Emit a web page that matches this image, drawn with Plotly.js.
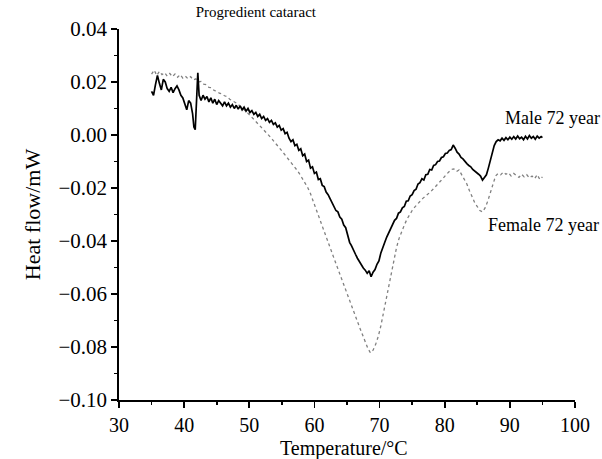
<!DOCTYPE html>
<html>
<head>
<meta charset="utf-8">
<script src="https://cdn.plot.ly/plotly-3.0.1.min.js"></script>
<style>html,body{margin:0;padding:0;background:#fff;}#chart{width:602px;height:459px;}</style>
</head>
<body>
<div id="chart"></div>
<script>
// Temperature (°C) and heat flow (mW)
const maleT = [35.0,35.3,35.6,35.9,36.2,36.5,36.8,37.1,37.4,37.7,38.0,38.3,38.6,38.9,39.2,39.5,39.8,40.1,40.4,40.7,41.0,41.3,41.5,41.7,41.9,42.1,42.3,42.6,42.9,43.2,43.5,43.8,44.1,44.4,44.7,45.0,45.3,45.6,45.9,46.2,46.5,46.8,47.1,47.4,47.7,48.0,48.3,48.6,48.9,49.2,49.5,49.8,50.1,50.4,50.7,51.0,51.3,51.6,51.9,52.2,52.5,52.8,53.1,53.4,53.7,54.0,54.3,54.6,54.9,55.2,55.5,55.8,56.1,56.4,56.7,57.0,57.3,57.6,57.9,58.2,58.5,58.8,59.1,59.4,59.7,60.0,60.3,60.6,60.9,61.2,61.5,61.8,62.1,62.4,62.7,63.0,63.3,63.6,63.9,64.2,64.5,64.8,65.1,65.4,65.7,66.0,66.3,66.6,66.9,67.2,67.5,67.8,68.1,68.4,68.7,69.0,69.3,69.6,69.9,70.2,70.5,70.8,71.1,71.4,71.7,72.0,72.3,72.6,72.9,73.2,73.5,73.8,74.1,74.4,74.7,75.0,75.3,75.6,75.9,76.2,76.5,76.8,77.1,77.4,77.7,78.0,78.3,78.6,78.9,79.2,79.5,79.8,80.1,80.4,80.7,81.0,81.3,81.6,81.9,82.2,82.5,82.8,83.1,83.4,83.7,84.0,84.3,84.6,84.9,85.2,85.5,85.8,86.1,86.4,86.7,87.0,87.3,87.6,87.9,88.2,88.5,88.8,89.1,89.4,89.7,90.0,90.3,90.6,90.9,91.2,91.5,91.8,92.1,92.4,92.7,93.0,93.3,93.6,93.9,94.2,94.5,94.8,95.0];
const maleHF = [0.0165,0.0150,0.0190,0.0225,0.0195,0.0170,0.0210,0.0200,0.0175,0.0165,0.0180,0.0160,0.0175,0.0185,0.0170,0.0150,0.0140,0.0120,0.0095,0.0130,0.0120,0.0080,0.0030,0.0020,0.0150,0.0235,0.0150,0.0130,0.0150,0.0135,0.0145,0.0125,0.0140,0.0120,0.0135,0.0115,0.0130,0.0120,0.0110,0.0125,0.0110,0.0120,0.0105,0.0115,0.0100,0.0112,0.0098,0.0110,0.0095,0.0105,0.0090,0.0100,0.0085,0.0092,0.0078,0.0085,0.0070,0.0078,0.0062,0.0070,0.0055,0.0062,0.0048,0.0055,0.0040,0.0046,0.0030,0.0036,0.0018,0.0024,0.0005,0.0010,-0.0012,-0.0025,-0.0018,-0.0040,-0.0035,-0.0058,-0.0052,-0.0078,-0.0072,-0.0100,-0.0095,-0.0125,-0.0120,-0.0145,-0.0140,-0.0168,-0.0165,-0.0190,-0.0195,-0.0215,-0.0225,-0.0240,-0.0255,-0.0265,-0.0285,-0.0290,-0.0310,-0.0318,-0.0340,-0.0350,-0.0380,-0.0405,-0.0418,-0.0438,-0.0450,-0.0465,-0.0478,-0.0488,-0.0502,-0.0510,-0.0522,-0.0512,-0.0535,-0.0518,-0.0508,-0.0488,-0.0475,-0.0445,-0.0420,-0.0405,-0.0385,-0.0370,-0.0350,-0.0340,-0.0322,-0.0315,-0.0295,-0.0290,-0.0275,-0.0270,-0.0250,-0.0248,-0.0230,-0.0225,-0.0210,-0.0205,-0.0185,-0.0180,-0.0165,-0.0170,-0.0150,-0.0148,-0.0130,-0.0132,-0.0115,-0.0112,-0.0100,-0.0098,-0.0085,-0.0082,-0.0070,-0.0068,-0.0058,-0.0055,-0.0038,-0.0050,-0.0065,-0.0072,-0.0085,-0.0090,-0.0100,-0.0108,-0.0115,-0.0120,-0.0130,-0.0135,-0.0140,-0.0148,-0.0155,-0.0170,-0.0160,-0.0150,-0.0125,-0.0095,-0.0070,-0.0040,-0.0025,-0.0018,-0.0022,-0.0012,-0.0020,-0.0010,-0.0018,-0.0008,-0.0016,-0.0006,-0.0015,-0.0004,-0.0014,-0.0008,-0.0018,-0.0005,-0.0015,-0.0002,-0.0012,-0.0006,-0.0016,-0.0004,-0.0012,-0.0006,-0.0010];

const femaleT = [35.0,35.4,35.8,36.2,36.6,37.0,37.4,37.8,38.2,38.6,39.0,39.4,39.8,40.2,40.6,41.0,41.4,41.8,42.2,42.6,43.0,43.4,43.8,44.2,44.6,45.0,45.4,45.8,46.2,46.6,47.0,47.4,47.8,48.2,48.6,49.0,49.4,49.8,50.2,50.6,51.0,51.4,51.8,52.2,52.6,53.0,53.4,53.8,54.2,54.6,55.0,55.4,55.8,56.2,56.6,57.0,57.4,57.8,58.2,58.6,59.0,59.4,59.8,60.2,60.6,61.0,61.4,61.8,62.2,62.6,63.0,63.4,63.8,64.2,64.6,65.0,65.4,65.8,66.2,66.6,67.0,67.4,67.8,68.2,68.6,69.0,69.4,69.8,70.2,70.6,71.0,71.4,71.8,72.2,72.6,73.0,73.4,73.8,74.2,74.6,75.0,75.4,75.8,76.2,76.6,77.0,77.4,77.8,78.2,78.6,79.0,79.4,79.8,80.2,80.6,81.0,81.4,81.8,82.2,82.6,83.0,83.4,83.8,84.2,84.6,85.0,85.4,85.8,86.2,86.6,87.0,87.4,87.8,88.2,88.6,89.0,89.4,89.8,90.2,90.6,91.0,91.4,91.8,92.2,92.6,93.0,93.4,93.8,94.2,94.6,95.0];
const femaleHF = [0.0230,0.0245,0.0225,0.0240,0.0228,0.0235,0.0222,0.0232,0.0220,0.0230,0.0218,0.0228,0.0215,0.0222,0.0212,0.0220,0.0208,0.0212,0.0200,0.0202,0.0192,0.0190,0.0180,0.0178,0.0168,0.0165,0.0158,0.0155,0.0148,0.0145,0.0135,0.0130,0.0122,0.0118,0.0108,0.0100,0.0090,0.0082,0.0072,0.0062,0.0052,0.0042,0.0032,0.0020,0.0010,-0.0002,-0.0012,-0.0025,-0.0035,-0.0048,-0.0060,-0.0072,-0.0085,-0.0098,-0.0110,-0.0122,-0.0135,-0.0150,-0.0165,-0.0180,-0.0200,-0.0222,-0.0250,-0.0278,-0.0305,-0.0330,-0.0355,-0.0382,-0.0410,-0.0438,-0.0465,-0.0492,-0.0520,-0.0548,-0.0575,-0.0600,-0.0625,-0.0652,-0.0678,-0.0705,-0.0730,-0.0755,-0.0780,-0.0805,-0.0822,-0.0812,-0.0790,-0.0760,-0.0720,-0.0670,-0.0620,-0.0570,-0.0520,-0.0470,-0.0425,-0.0390,-0.0362,-0.0340,-0.0318,-0.0300,-0.0285,-0.0272,-0.0260,-0.0250,-0.0240,-0.0232,-0.0225,-0.0215,-0.0205,-0.0195,-0.0185,-0.0175,-0.0162,-0.0150,-0.0138,-0.0130,-0.0128,-0.0138,-0.0132,-0.0150,-0.0165,-0.0185,-0.0210,-0.0235,-0.0255,-0.0270,-0.0285,-0.0290,-0.0275,-0.0250,-0.0215,-0.0180,-0.0155,-0.0145,-0.0150,-0.0140,-0.0148,-0.0142,-0.0155,-0.0145,-0.0152,-0.0160,-0.0148,-0.0158,-0.0150,-0.0162,-0.0155,-0.0165,-0.0150,-0.0168,-0.0158];

const seriesNames = ["Male 72 year", "Female 72 year"];
const chartTitle = "Progredient cataract";
const xTitle = "Temperature/°C";
const yTitle = "Heat flow/mW";

const FONT = "Liberation Serif, Times New Roman, serif";

const traces = [
  {x: femaleT, y: femaleHF, mode: "lines", name: seriesNames[1],
   line: {color: "#808080", width: 1.3, dash: "dot"}},
  {x: maleT, y: maleHF, mode: "lines", name: seriesNames[0],
   line: {color: "#000000", width: 1.7}}
];

const axisCommon = {
  showgrid: false, zeroline: false, showline: true, linecolor: "#000", linewidth: 1.8,
  ticks: "outside", ticklen: 6, tickwidth: 1.8, tickcolor: "#000",
  tickfont: {family: FONT, size: 21, color: "#000"},
  automargin: false
};

const layout = {
  width: 602, height: 459,
  margin: {l: 119, r: 27, t: 29, b: 59},
  paper_bgcolor: "#fff", plot_bgcolor: "#fff",
  showlegend: false,
  font: {family: FONT, color: "#000"},
  title: {text: chartTitle, font: {family: FONT, size: 15, color: "#000"},
          x: 0.425, xref: "container", xanchor: "center", y: 0.975, yref: "container", yanchor: "middle"},
  xaxis: Object.assign({}, axisCommon, {
    range: [30, 100], tick0: 30, dtick: 10,
    tickfont: {family: FONT, size: 20, color: "#000"},
    minor: {dtick: 5, ticks: "outside", ticklen: 3, tickwidth: 1.8, tickcolor: "#000"}
  }),
  yaxis: Object.assign({}, axisCommon, {
    range: [-0.10, 0.04], tick0: 0, dtick: 0.02, tickformat: ".2f",
    minor: {dtick: 0.01, ticks: "outside", ticklen: 3, tickwidth: 1.8, tickcolor: "#000"},
    title: {text: yTitle, font: {family: FONT, size: 22, color: "#000"}, standoff: 12}
  }),
  annotations: [
    {x: 0.493, y: -0.132, xref: "paper", yref: "paper", text: xTitle, showarrow: false,
     xanchor: "center", yanchor: "middle", font: {family: FONT, size: 20, color: "#000"}},
    {x: 88.9, y: 0.0065, xref: "x", yref: "y", text: seriesNames[0], showarrow: false,
     xanchor: "left", yanchor: "middle", font: {family: FONT, size: 18, color: "#000"}},
    {x: 86.3, y: -0.0339, xref: "x", yref: "y", text: seriesNames[1], showarrow: false,
     xanchor: "left", yanchor: "middle", font: {family: FONT, size: 18, color: "#000"}}
  ]
};

Plotly.newPlot("chart", traces, layout, {displayModeBar: false, staticPlot: true});
</script>
</body>
</html>
